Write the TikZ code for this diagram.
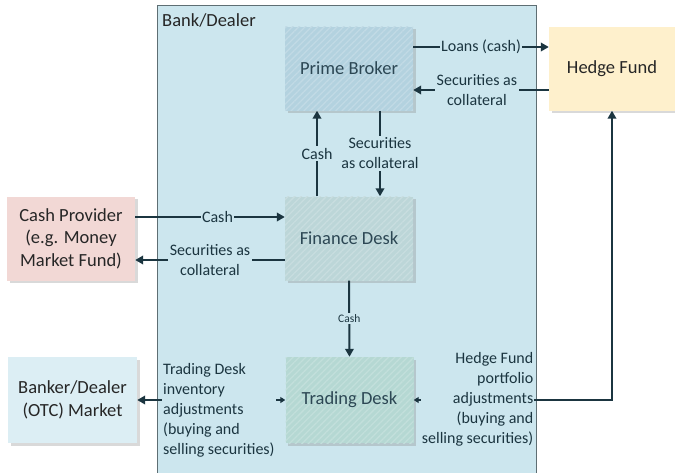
\documentclass[tikz,border=0pt]{standalone}
\usepackage{fontspec}
\setmainfont{Carlito}
\usetikzlibrary{arrows.meta,shadows,patterns.meta}

\definecolor{bankfill}{HTML}{CCE6EE}
\definecolor{bankline}{HTML}{5E6E73}
\definecolor{pbfill}{HTML}{B3D2DF}
\definecolor{fdfill}{HTML}{BCD6D8}
\definecolor{tdfill}{HTML}{B5D8D3}
\definecolor{cpfill}{HTML}{F2D8D5}
\definecolor{hffill}{HTML}{FEF0CC}
\definecolor{mkfill}{HTML}{DCEEF4}
\definecolor{ink}{HTML}{1B3540}
\definecolor{desktext}{HTML}{2C4754}
\definecolor{plaintext}{HTML}{262626}

\tikzset{
  unitbox/.style={minimum width=128pt, minimum height=84pt, inner sep=0pt,
    align=center, font=\fontsize{18.5}{22.5}\selectfont, text=plaintext,
    drop shadow={shadow xshift=2.5pt, shadow yshift=-2.5pt, opacity=0.3}},
  desk/.style={unitbox, text=desktext, text opacity=1, preaction={fill=#1},
    preaction={pattern={Lines[angle=45,distance=4.5pt,line width=1.3pt]},
      pattern color=#1!82!white}},
  flow/.style={ink, line width=2pt, -{Triangle[length=8pt,width=8.5pt]}},
  twoway/.style={ink, line width=2pt,
    {Triangle[length=5pt,width=6pt]}-{Triangle[length=8pt,width=8.5pt]}},
  lbl/.style={fill=bankfill, inner sep=1.5pt, align=center, text=ink,
    font=\fontsize{16}{20}\selectfont},
  smalllbl/.style={lbl, font=\fontsize{11.5}{14}\selectfont},
}

\begin{document}
\begin{tikzpicture}[x=1pt, y=-1pt]
\useasboundingbox (0,0) rectangle (675,472);
\clip (0,0) rectangle (675,472);

% the bank/dealer container
\node[draw=bankline, line width=1pt, fill=bankfill, minimum width=379pt,
  minimum height=480pt, inner sep=0pt, anchor=north west] (bank) at (157,5) {};
\node[anchor=base west, inner sep=0pt, text=plaintext,
  font=\fontsize{18.5}{22.5}\selectfont] (banklabel) at (162,26) {Bank/Dealer};

% desks inside the bank
\node[desk=pbfill] (pb) at (349,68.5) {Prime Broker};
\node[desk=fdfill] (fd) at (349,238.5) {Finance Desk};
\node[desk=tdfill, minimum height=86pt] (td) at (349.5,400) {Trading Desk};

% outside parties
\node[unitbox, fill=cpfill] (cp) at (71,238.5) {Cash Provider\\(e.g. Money\\Market Fund)};
\node[unitbox, fill=mkfill, minimum width=129pt, minimum height=86pt] (mk) at (72.5,400) {Banker/Dealer\\(OTC) Market};
\node[unitbox, fill=hffill, minimum width=126pt] (hf) at (612,68.5) {Hedge Fund};

% prime broker <-> hedge fund
\draw[flow] ([yshift=21.5pt]pb.east) -- ([yshift=21.5pt]hf.west)
  node[lbl, midway] (loans) {Loans (cash)};
\draw[flow] ([yshift=-21.5pt]hf.west) -- ([yshift=-21.5pt]pb.east)
  node[lbl, pos=0.53] (hfsec) {Securities as\\collateral};

% prime broker <-> finance desk
\draw[flow] ([xshift=-32pt]fd.north) -- ([xshift=-32pt]pb.south)
  node[lbl, midway] (pbcash) {Cash};
\draw[flow] ([xshift=31pt]pb.south) -- ([xshift=31pt]fd.north)
  node[lbl, midway] (pbsec) {Securities\\as collateral};

% cash provider <-> finance desk
\draw[flow] ([yshift=21.5pt]cp.east) -- ([yshift=21.5pt]fd.west)
  node[lbl, pos=0.55] (cpcash) {Cash};
\draw[flow] ([yshift=-21.5pt]fd.west) -- ([yshift=-21.5pt]cp.east)
  node[lbl, pos=0.5] (cpsec) {Securities as\\collateral};

% finance desk -> trading desk
\draw[flow] (fd.south) -- (td.north) node[smalllbl, midway] (tdcash) {Cash};

% trading desk <-> OTC market and hedge fund
\draw[twoway] (td.west) -- (mk.east);
\node[lbl, anchor=west, align=left, inner sep=1pt] (invlbl) at (162,410)
  {Trading Desk\\inventory\\adjustments\\(buying and\\selling securities)};
\draw[twoway] (td.east) -| (hf.south);
\node[lbl, anchor=east, align=right, inner sep=1pt] (hflbl) at (534.5,399)
  {Hedge Fund\\portfolio\\adjustments\\(buying and\\selling securities)};
\end{tikzpicture}
\end{document}
